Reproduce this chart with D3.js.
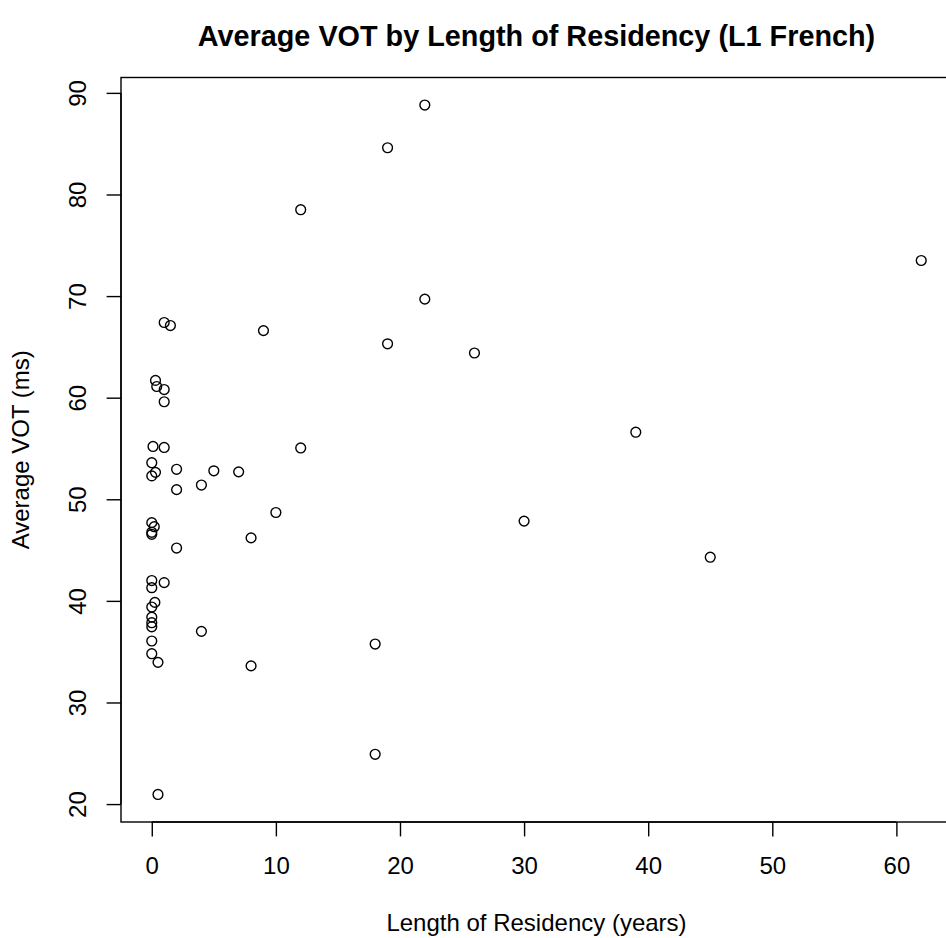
<!DOCTYPE html>
<html>
<head>
<meta charset="utf-8">
<script src="https://cdn.jsdelivr.net/npm/d3@7"></script>
<style>
  html, body { margin: 0; padding: 0; background: #fff; }
  svg { display: block; }
  text { font-family: "Liberation Sans", Arial, Helvetica, sans-serif; fill: #000; }
</style>
</head>
<body>
<div id="chart"></div>
<script>
// Length of residency (years)
const lor = [22, 19, 12, 62, 22, 1, 1.5, 9, 19, 26,
             0.3, 0.4, 1, 1, 39, 0.1, 1, 12, 0, 2,
             5, 7, 0.3, 0, 4, 2, 10, 30, 0, 0.2,
             0, 0, 8, 2, 45, 0, 1, 0, 0.25, 0,
             0, 0, 0, 4, 0, 18, 0, 0.5, 8, 18, 0.5];
// Average VOT (ms)
const vot = [88.8, 84.6, 78.5, 73.5, 69.7, 67.4, 67.1, 66.6, 65.3, 64.4,
             61.7, 61.1, 60.8, 59.6, 56.6, 55.2, 55.1, 55.05, 53.6, 52.95,
             52.8, 52.7, 52.65, 52.3, 51.4, 50.95, 48.7, 47.85, 47.7, 47.3,
             46.75, 46.55, 46.2, 45.2, 44.3, 42.0, 41.8, 41.3, 39.85, 39.4,
             38.4, 37.85, 37.45, 37.0, 36.05, 35.75, 34.8, 33.95, 33.6, 24.9, 20.95];
const xTicks = [0, 10, 20, 30, 40, 50, 60];
const yTicks = [20, 30, 40, 50, 60, 70, 80, 90];
const titleText = "Average VOT by Length of Residency (L1 French)";
const xLabel = "Length of Residency (years)";
const yLabel = "Average VOT (ms)";

const W = 946, H = 938;
const lineH = 28.8;
const box = { left: 121, top: 77.5, right: 952, bottom: 822 };

function padded(ext) {
  const d = (ext[1] - ext[0]) * 0.04;
  return [ext[0] - d, ext[1] + d];
}

const x = d3.scaleLinear().domain(padded(d3.extent(lor))).range([box.left, box.right]);
const y = d3.scaleLinear().domain(padded(d3.extent(vot))).range([box.bottom, box.top]);

const svg = d3.select("#chart").append("svg")
  .attr("width", W).attr("height", H)
  .attr("viewBox", `0 0 ${W} ${H}`);

svg.append("rect").attr("width", W).attr("height", H).attr("fill", "#fff");

// plot box
svg.append("rect")
  .attr("x", box.left).attr("y", box.top)
  .attr("width", box.right - box.left).attr("height", box.bottom - box.top)
  .attr("fill", "none").attr("stroke", "#000").attr("stroke-width", 1.4);

// x axis
const xAxis = d3.axisBottom(x).tickValues(xTicks).tickSize(14.4).tickPadding(0).tickFormat(d3.format("d"));
const gx = svg.append("g").attr("transform", `translate(0,${box.bottom})`).call(xAxis);
gx.select(".domain").attr("d", `M${x(xTicks[0])},0H${x(xTicks[xTicks.length-1])}`).attr("stroke-width", 1.4);
gx.selectAll(".tick line").attr("stroke-width", 1.4);
gx.selectAll(".tick text")
  .attr("y", 1.8 * lineH).attr("dy", null)
  .style("font-size", "24px").style("font-family", '"Liberation Sans", Arial, sans-serif').attr("fill", "#000");

// y axis
const yAxis = d3.axisLeft(y).tickValues(yTicks).tickSize(14.4).tickPadding(0).tickFormat(d3.format("d"));
const gy = svg.append("g").attr("transform", `translate(${box.left},0)`).call(yAxis);
gy.select(".domain").attr("d", `M0,${y(yTicks[0])}V${y(yTicks[yTicks.length-1])}`).attr("stroke-width", 1.4);
gy.selectAll(".tick line").attr("stroke-width", 1.4);
gy.selectAll(".tick text")
  .attr("x", null).attr("dy", null)
  .attr("text-anchor", "middle")
  .attr("transform", `translate(${-1.2 * lineH},0) rotate(-90)`)
  .style("font-size", "24px").style("font-family", '"Liberation Sans", Arial, sans-serif').attr("fill", "#000");

// points
svg.append("g").selectAll("circle")
  .data(lor.map((d, i) => [d, vot[i]]))
  .join("circle")
  .attr("cx", d => x(d[0]))
  .attr("cy", d => y(d[1]))
  .attr("r", 4.9)
  .attr("fill", "none")
  .attr("stroke", "#000")
  .attr("stroke-width", 1.4);

const cx = (box.left + box.right) / 2;
const cy = (box.top + box.bottom) / 2;

// title
svg.append("text")
  .attr("x", cx).attr("y", 46)
  .attr("text-anchor", "middle")
  .style("font-size", "28.8px").style("font-weight", "bold")
  .text(titleText);

// x label
svg.append("text")
  .attr("x", cx).attr("y", box.bottom + 3.8 * lineH)
  .attr("text-anchor", "middle")
  .style("font-size", "24px")
  .text(xLabel);

// y label
svg.append("text")
  .attr("transform", `translate(${box.left - 3.2 * lineH},${cy}) rotate(-90)`)
  .attr("text-anchor", "middle")
  .style("font-size", "24px")
  .text(yLabel);
</script>
</body>
</html>
